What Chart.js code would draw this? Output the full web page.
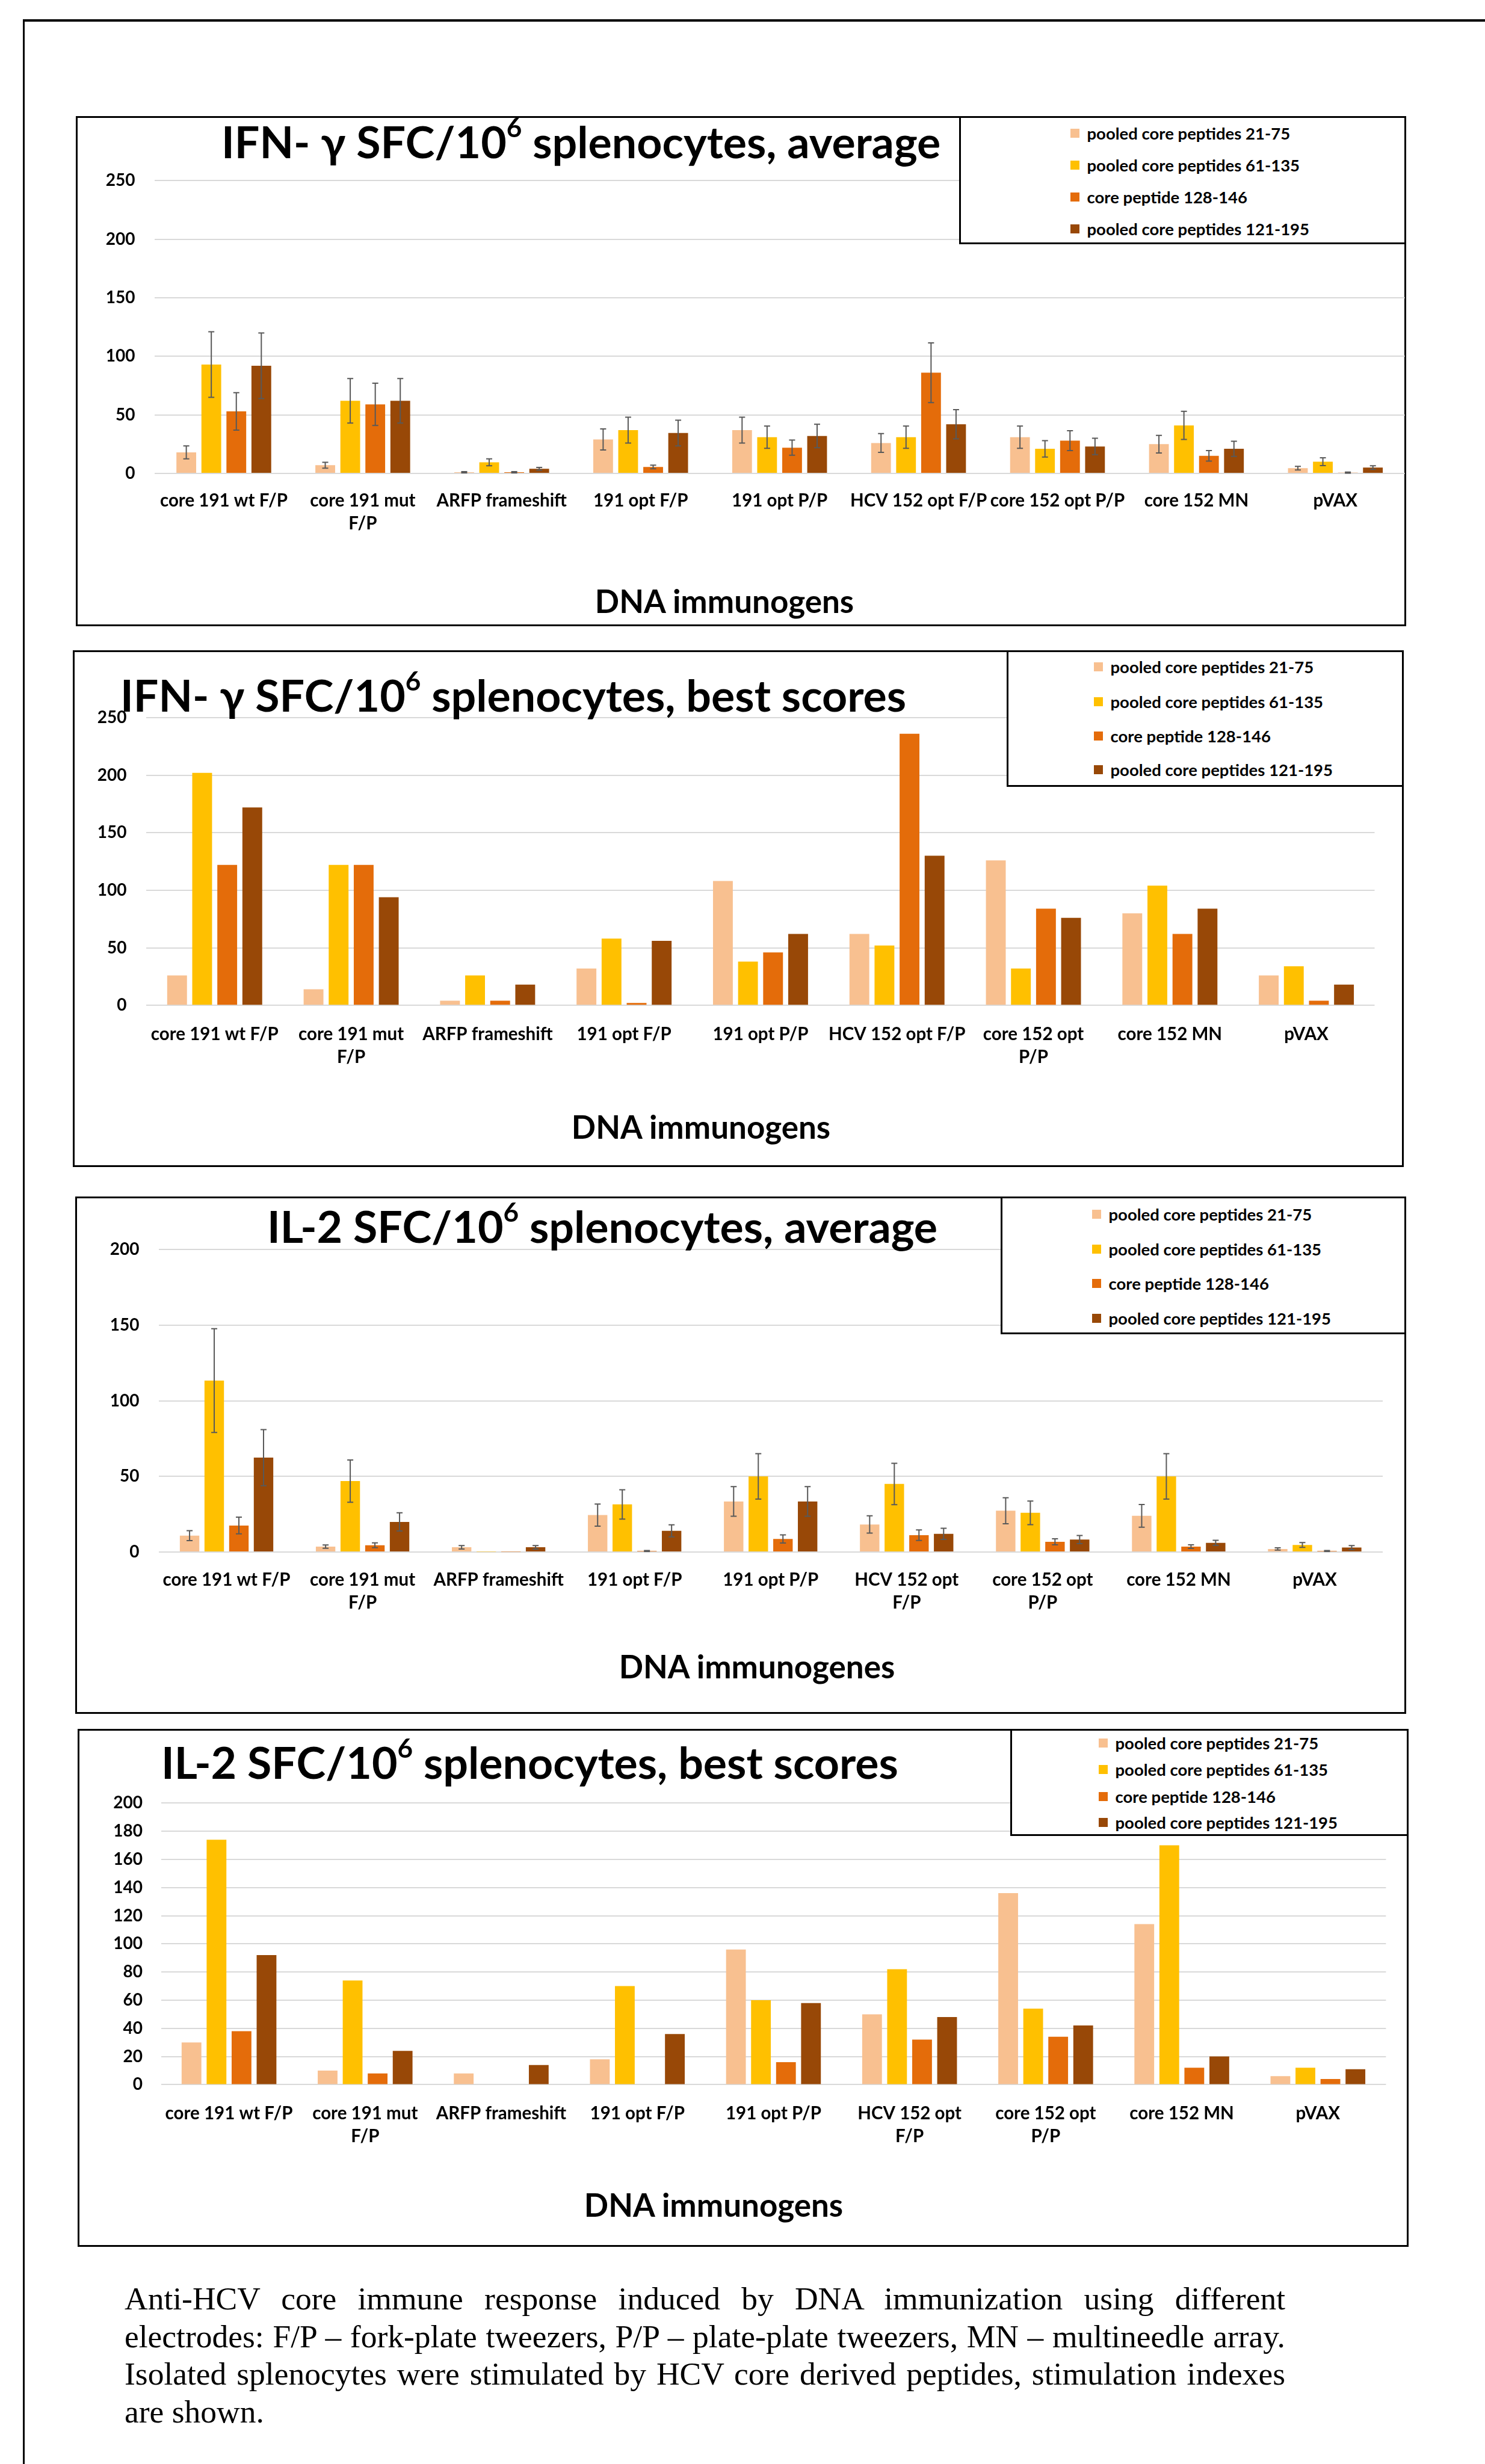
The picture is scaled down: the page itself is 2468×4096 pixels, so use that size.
<!DOCTYPE html>
<html>
<head>
<meta charset="utf-8">
<script src="https://cdn.jsdelivr.net/npm/chart.js@4.4.1/dist/chart.umd.min.js"></script>
<style>
  html, body { margin: 0; padding: 0; background: #fff; }
  body { width: 2468px; height: 4096px; position: relative; overflow: hidden; font-family: Lato, 'Open Sans', sans-serif; }
  .line { position: absolute; background: #000; }
  .panel { position: absolute; box-sizing: border-box; border: 3px solid #000; background: #fff; }
  .legend { position: absolute; box-sizing: border-box; border: 3px solid #000; background: #fff; }
  canvas { position: absolute; }
  .title { position: absolute; font-weight: 700; font-size: 73.5px; line-height: 1.2; white-space: nowrap; color: #000; }
  .title sup { font-size: 0.6em; position: relative; top: -0.05em; vertical-align: top; line-height: 1; }
  .axisTitle { position: absolute; font-weight: 700; font-size: 53px; line-height: 1.2; white-space: nowrap; transform: translateX(-50%); }
  .item { position: absolute; height: 34px; display: flex; align-items: center; font-weight: 700; font-size: 27.5px; white-space: nowrap; }
  .swatch { width: 15px; height: 15px; margin-right: 13px; flex: none; }
  .caption { position: absolute; left: 207px; width: 1929px; font-family: 'Liberation Serif', 'Times New Roman', serif; font-size: 53.5px; line-height: 62.7px; }
  .caption div { text-align: justify; text-align-last: justify; white-space: nowrap; }
  .caption div.last { text-align-last: left; }
</style>
</head>
<body>

<div class="line" style="left:38px; top:32px; width:2430px; height:4px;"></div>
<div class="line" style="left:38px; top:32px; width:3px; height:4064px;"></div>

<div class="panel" style="left:126px; top:193px; width:2211px; height:848px;"></div>
<div class="panel" style="left:121px; top:1081px; width:2212px; height:859px;"></div>
<div class="panel" style="left:125px; top:1989px; width:2212px; height:860px;"></div>
<div class="panel" style="left:129px; top:2874px; width:2212px; height:861px;"></div>

<canvas id="c1" width="2211" height="848" style="left:126px; top:193px;"></canvas>
<canvas id="c2" width="2212" height="859" style="left:121px; top:1081px;"></canvas>
<canvas id="c3" width="2212" height="860" style="left:125px; top:1989px;"></canvas>
<canvas id="c4" width="2212" height="861" style="left:129px; top:2874px;"></canvas>

<div class="legend" style="left:1594px; top:193px; width:743px; height:213px;"></div>
<div class="legend" style="left:1673px; top:1081px; width:660px; height:227px;"></div>
<div class="legend" style="left:1663px; top:1989px; width:674px; height:229px;"></div>
<div class="legend" style="left:1679px; top:2874px; width:662px; height:178px;"></div>
<div id="legends"></div>

<div class="title" style="left:368px; top:191px;">IFN- γ SFC/10<sup>6</sup> splenocytes, average</div>
<div class="title" style="left:200px; top:1111px;">IFN- γ SFC/10<sup>6</sup> splenocytes, best scores</div>
<div class="title" style="left:444px; top:1994px;">IL-2 SFC/10<sup>6</sup> splenocytes, average</div>
<div class="title" style="left:268px; top:2885px;">IL-2 SFC/10<sup>6</sup> splenocytes, best scores</div>

<div class="axisTitle" style="left:1204px; top:967px;">DNA immunogens</div>
<div class="axisTitle" style="left:1165px; top:1841px;">DNA immunogens</div>
<div class="axisTitle" style="left:1258px; top:2738px;">DNA immunogenes</div>
<div class="axisTitle" style="left:1186px; top:3633px;">DNA immunogens</div>

<div class="caption" style="top:3790px;">
  <div>Anti-HCV core immune response induced by DNA immunization using different</div>
  <div>electrodes: F/P – fork-plate tweezers, P/P – plate-plate tweezers, MN – multineedle array.</div>
  <div>Isolated splenocytes were stimulated by HCV core derived peptides, stimulation indexes</div>
  <div class="last">are shown.</div>
</div>

<script>
// series
const seriesNames = ['pooled core peptides 21-75', 'pooled core peptides 61-135', 'core peptide 128-146', 'pooled core peptides 121-195'];
const seriesColors = ['#F8C090', '#FFC000', '#E46C0A', '#984807'];

// categories (multi-line where the picture wraps)
const catsIfnAvg = ['core 191 wt F/P', ['core 191 mut', 'F/P'], 'ARFP frameshift', '191 opt F/P', '191 opt P/P', 'HCV 152 opt F/P', 'core 152 opt P/P', 'core 152 MN', 'pVAX'];
const catsIfnBest = ['core 191 wt F/P', ['core 191 mut', 'F/P'], 'ARFP frameshift', '191 opt F/P', '191 opt P/P', 'HCV 152 opt F/P', ['core 152 opt', 'P/P'], 'core 152 MN', 'pVAX'];
const catsIl2 = ['core 191 wt F/P', ['core 191 mut', 'F/P'], 'ARFP frameshift', '191 opt F/P', '191 opt P/P', ['HCV 152 opt', 'F/P'], ['core 152 opt', 'P/P'], 'core 152 MN', 'pVAX'];

// IFN-g average
const ifnAvg21 = [18, 7, 1, 29, 37, 26, 31, 25, 4.5];
const ifnAvg61 = [93, 62, 9.5, 37, 31, 31, 21, 41, 10];
const ifnAvg128 = [53, 59, 1, 5.5, 22, 86, 28, 15, 0.7];
const ifnAvg121 = [92, 62, 4, 34.5, 32, 42, 23, 21, 5];
const ifnAvgErr21 = [5.5, 2.5, 0.5, 9, 11, 8, 9.5, 7.5, 1.5];
const ifnAvgErr61 = [28, 19, 3, 11, 9.5, 9.5, 7, 12, 3.3];
const ifnAvgErr128 = [16, 18, 0.5, 1.5, 6.5, 25.5, 8.5, 4.5, 0.4];
const ifnAvgErr121 = [28, 19, 1.2, 11, 10, 12.5, 7, 6.5, 1.5];

// IFN-g best scores
const ifnBest21 = [26, 14, 4, 32, 108, 62, 126, 80, 26];
const ifnBest61 = [202, 122, 26, 58, 38, 52, 32, 104, 34];
const ifnBest128 = [122, 122, 4, 2, 46, 236, 84, 62, 4];
const ifnBest121 = [172, 94, 18, 56, 62, 130, 76, 84, 18];

// IL-2 average
const il2Avg21 = [10.8, 3.5, 3.1, 24.4, 33.4, 18.2, 27.3, 23.9, 2];
const il2Avg61 = [113.4, 46.9, 0.2, 31.5, 50, 45, 25.9, 50, 4.6];
const il2Avg128 = [17.5, 4.4, 0.2, 0.7, 8.6, 11.1, 6.7, 3.5, 0.7];
const il2Avg121 = [62.4, 19.9, 3.1, 14, 33.4, 12, 8.2, 6, 2.9];
const il2AvgErr21 = [3.3, 1.1, 1.1, 7.3, 9.8, 5.7, 8.6, 7.5, 0.7];
const il2AvgErr61 = [34.3, 14, 0, 9.7, 15, 13.7, 7.8, 15, 1.6];
const il2AvgErr128 = [5.5, 1.6, 0, 0.3, 2.7, 3.5, 2, 1.2, 0.3];
const il2AvgErr121 = [18.6, 6, 1.1, 4, 9.8, 3.7, 2.7, 1.7, 1.3];

// IL-2 best scores
const il2Best21 = [30, 10, 8, 18, 96, 50, 136, 114, 6];
const il2Best61 = [174, 74, 0, 70, 60, 82, 54, 170, 12];
const il2Best128 = [38, 8, 0, 0, 16, 32, 34, 12, 4];
const il2Best121 = [92, 24, 14, 36, 58, 48, 42, 20, 11];

const tickFont = { family: 'Lato, sans-serif', size: 28, weight: 'bold', lineHeight: 1.3 };
const catFont = { family: 'Lato, sans-serif', size: 29.5, weight: 'bold', lineHeight: 1.3 };

// whiskers drawn on top of the bars
const errorBarPlugin = {
  id: 'errorBars',
  afterDatasetsDraw(chart) {
    const ctx = chart.ctx;
    const yScale = chart.scales.y;
    chart.data.datasets.forEach((ds, i) => {
      if (!ds.errors) return;
      const meta = chart.getDatasetMeta(i);
      ctx.save();
      ctx.strokeStyle = '#595959';
      ctx.lineWidth = 2;
      meta.data.forEach((bar, j) => {
        const v = ds.data[j];
        const e = ds.errors[j];
        if (!e) return;
        const top = yScale.getPixelForValue(v + e);
        const bot = yScale.getPixelForValue(Math.max(v - e, 0));
        ctx.beginPath();
        ctx.moveTo(bar.x, top); ctx.lineTo(bar.x, bot);
        ctx.moveTo(bar.x - 5, top); ctx.lineTo(bar.x + 5, top);
        ctx.moveTo(bar.x - 5, bot); ctx.lineTo(bar.x + 5, bot);
        ctx.stroke();
      });
      ctx.restore();
    });
  }
};

function buildChart(id, labels, values, errors, yMax, yStep, pad, yPad, xPad, catPct) {
  const datasets = seriesNames.map((name, k) => ({
    label: name,
    data: values[k],
    errors: errors ? errors[k] : null,
    backgroundColor: seriesColors[k],
    categoryPercentage: catPct,
    barPercentage: 0.79
  }));
  return new Chart(document.getElementById(id), {
    type: 'bar',
    data: { labels: labels, datasets: datasets },
    options: {
      responsive: false,
      animation: false,
      devicePixelRatio: 1,
      layout: { padding: pad },
      plugins: { legend: { display: false }, tooltip: { enabled: false }, title: { display: false } },
      scales: {
        x: {
          grid: { display: false },
          border: { display: false },
          ticks: { autoSkip: false, maxRotation: 0, minRotation: 0, color: '#000', padding: xPad, font: catFont },
          afterFit: (s) => { s.height = 110; }
        },
        y: {
          min: 0,
          max: yMax,
          ticks: { stepSize: yStep, padding: yPad, color: '#000', font: tickFont },
          grid: { color: '#D9D9D9', lineWidth: 2, drawTicks: false },
          border: { display: false },
          afterFit: (s) => { s.width = 100; }
        }
      }
    },
    plugins: [errorBarPlugin]
  });
}

buildChart('c1', catsIfnAvg, [ifnAvg21, ifnAvg61, ifnAvg128, ifnAvg121],
  [ifnAvgErr21, ifnAvgErr61, ifnAvgErr128, ifnAvgErr121], 250, 50,
  { left: 30.5, right: 2.2, top: 107.3, bottom: 144 }, 32, 18, 0.72);
buildChart('c2', catsIfnBest, [ifnBest21, ifnBest61, ifnBest128, ifnBest121], null, 250, 50,
  { left: 22.4, right: 48.5, top: 112, bottom: 158.8 }, 33, 21, 0.735);
buildChart('c3', catsIl2, [il2Avg21, il2Avg61, il2Avg128, il2Avg121],
  [il2AvgErr21, il2AvgErr61, il2AvgErr128, il2AvgErr121], 200, 50,
  { left: 38.5, right: 39, top: 88.4, bottom: 159.1 }, 32, 19, 0.725);
buildChart('c4', catsIl2, [il2Best21, il2Best61, il2Best128, il2Best121], null, 200, 20,
  { left: 38.5, right: 37.6, top: 123.3, bottom: 159.6 }, 30.5, 21, 0.735);

// legend boxes: marker centres per panel
const legendX = [1786, 1825, 1822, 1833];
const legendY = [[221, 274, 327, 380], [1108, 1166, 1223, 1279], [2018, 2076, 2133, 2191], [2897, 2941, 2986, 3029]];
const holder = document.getElementById('legends');
legendX.forEach((cx, p) => {
  legendY[p].forEach((cy, k) => {
    const item = document.createElement('div');
    item.className = 'item';
    item.style.left = (cx - 7.5) + 'px';
    item.style.top = (cy - 17) + 'px';
    const sw = document.createElement('span');
    sw.className = 'swatch';
    sw.style.background = seriesColors[k];
    item.appendChild(sw);
    item.appendChild(document.createTextNode(seriesNames[k]));
    holder.appendChild(item);
  });
});
</script>
</body>
</html>
